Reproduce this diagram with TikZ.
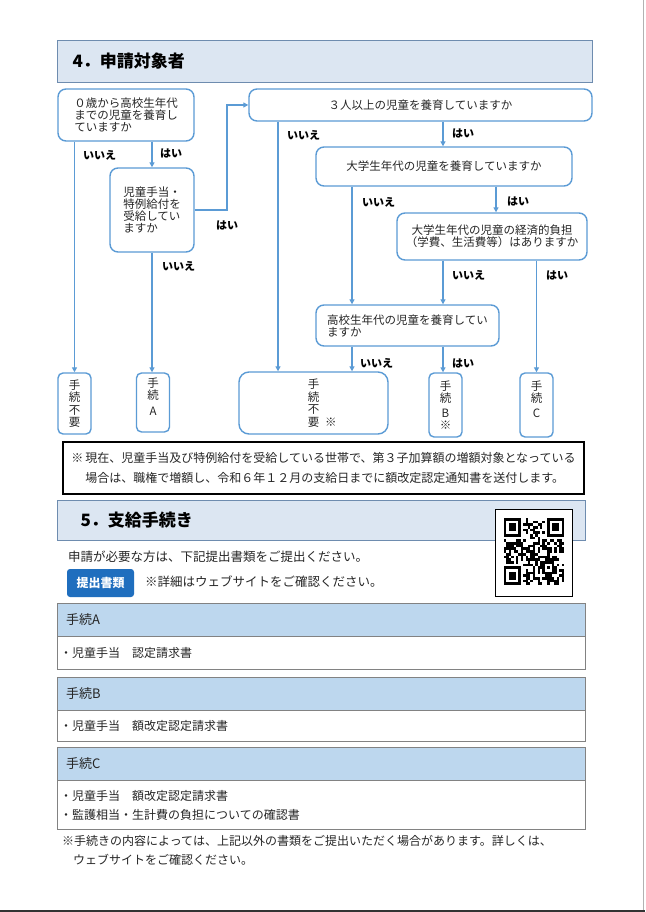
\documentclass[tikz,border=0pt]{standalone}
\usepackage{fontspec}
\setmainfont{Noto Sans CJK JP}
\usetikzlibrary{arrows.meta}
\definecolor{flowblue}{RGB}{91,155,213}
\definecolor{hdrfill}{RGB}{220,230,242}
\definecolor{hdrline}{RGB}{110,140,175}
\definecolor{tblfill}{RGB}{189,215,238}
\definecolor{tblline}{RGB}{130,130,130}
\definecolor{btnblue}{RGB}{31,110,190}
\tikzset{
  qbox/.style={draw=flowblue, line width=1.4pt, rounded corners=8pt, align=left, inner sep=0pt,
    text=black!85, font=\fontsize{11.5}{12}\selectfont},
  endbox/.style={draw=flowblue, line width=1.4pt, rounded corners=5pt, align=center, inner sep=0pt,
    minimum width=33pt, text=black!85, font=\fontsize{11.5}{12.5}\selectfont},
  flow/.style={flowblue, line width=1.4pt, -{Triangle[length=5pt,width=5pt]}},
  yn/.style={anchor=west, inner sep=0pt, font=\bfseries\fontsize{11}{11}\selectfont},
  hdr/.style={draw=hdrline, fill=hdrfill, line width=1pt, anchor=north west, align=left,
    inner xsep=15pt, font=\bfseries\fontsize{17}{17}\selectfont},
  txt/.style={inner sep=0pt, text=black!85, font=\fontsize{12.5}{12.5}\selectfont},
  tblhead/.style={draw=tblline, fill=tblfill, anchor=north west, text width=510pt, inner xsep=9pt,
    align=left, text=black!85, font=\fontsize{13}{13}\selectfont},
  tblbody/.style={draw=tblline, fill=white, anchor=north west, text width=522pt, inner xsep=3pt,
    align=left, text=black!85, font=\fontsize{12}{19}\selectfont}
}
\begin{document}
\begin{tikzpicture}[x=1pt,y=-1pt]
  \useasboundingbox (0,0) rectangle (645,912);
  \fill[white] (0,0) rectangle (645,912);
  \draw[black!30, line width=1pt] (643,0) -- (643,910);
  \draw[black!80, line width=1.5pt] (0,911) -- (645,911);

  \node[hdr, text width=505pt, minimum height=42pt] (hdr4) at (57,40) {4．申請対象者};

  \node[qbox, minimum width=136pt, minimum height=52pt] (q0) at (126,115) {０歳から高校生年代\\までの児童を養育し\\ていますか};
  \node[qbox, minimum width=84pt, minimum height=84pt] (q1) at (152,210) {児童手当・\\特例給付を\\受給してい\\ますか};
  \node[qbox, minimum width=343pt, minimum height=32pt] (q2) at (420.5,105) {３人以上の児童を養育していますか};
  \node[qbox, minimum width=256pt, minimum height=39pt] (q3) at (444,166.5) {大学生年代の児童を養育していますか};
  \node[qbox, minimum width=190pt, minimum height=47pt, align=center] (q4) at (492,236.5) {大学生年代の児童の経済的負担\\（学費、生活費等）はありますか};
  \node[qbox, minimum width=183pt, minimum height=41pt] (q5) at (407.5,325.5) {高校生年代の児童を養育してい\\ますか};

  \node[endbox, minimum height=61pt] (e0) at (74.5,403.5) {手\\続\\不\\要};
  \node[endbox, minimum height=59pt] (eA) at (153,402.5) {手\\続\\[3pt]A\\\mbox{}};
  \node[endbox, minimum width=149pt, minimum height=62pt, rounded corners=10pt] (eN) at (313.5,403) {手\\続\\不\\要\rlap{\hspace{6pt}※}};
  \node[endbox, minimum height=64pt] (eB) at (445.5,405) {手\\続\\[2pt]B\\※};
  \node[endbox, minimum height=64pt] (eC) at (536.5,405) {手\\続\\[2pt]C\\\mbox{}};

  \coordinate (j1) at (278,0);
  \coordinate (j2) at (352,0);
  \coordinate (j3) at (443,0);
  \coordinate (j4) at (496,0);
  \coordinate (j5) at (227,0);

  \draw[flow] (q0.south -| e0.north) -- (e0.north);
  \draw[flow] (q0.south -| q1.north) -- (q1.north);
  \draw[flow] (q1.south) -- (q1.south |- eA.north);
  \draw[flow] (q1.east) -| (j5 |- q2.west) -- (q2.west);
  \draw[flow] (q2.south -| j1) -- (eN.north -| j1);
  \draw[flow] (q2.south -| j3) -- (q3.north -| j3);
  \draw[flow] (q3.south -| j2) -- (q5.north -| j2);
  \draw[flow] (q3.south -| j4) -- (q4.north -| j4);
  \draw[flow] (q4.south -| j3) -- (q5.north -| j3);
  \draw[flow] (q4.south -| eC.north) -- (eC.north);
  \draw[flow] (q5.south -| j2) -- (eN.north -| j2);
  \draw[flow] (q5.south -| j3) -- (eB.north -| j3);

  \foreach \t/\x/\y [count=\k] in {いいえ/83/155, はい/160/153, はい/216/225, いいえ/162/266,
      いいえ/287/135, はい/452/133, いいえ/362/202, はい/507/201,
      いいえ/452/275, はい/546/275, いいえ/360/363, はい/452/363}
    \node[yn] (lb\k) at (\x,\y) {\t};

  \node[draw=black, line width=2pt, minimum width=521pt, minimum height=52pt, align=left,
    text=black!85, font=\fontsize{12}{20}\selectfont] (note) at (323.5,468)
    {※\,現在、児童手当及び特例給付を受給している世帯で、第３子加算額の増額対象となっている\\
     \hphantom{※\,}場合は、職権で増額し、令和６年１２月の支給日までに額改定認定通知書を送付します。};

  \node[hdr, inner xsep=23pt, text width=482pt, minimum height=40pt] (hdr5) at (57,500) {5．支給手続き};

  \node[draw=black, line width=0.8pt, fill=white, minimum width=77pt, minimum height=87pt, inner sep=0pt] (qr) at (533.5,552.5) {};
  \begin{scope}[shift={(504,518)}, x=2.4pt, y=-2.68pt]
    \pgfmathsetseed{11}
    \foreach \i in {0,...,24}{
      \foreach \j in {0,...,24}{
        \pgfmathtruncatemacro{\on}{((\i<8 && \j<8) || (\i>16 && \j<8) || (\i<8 && \j>16)) ? 0 : (rnd<0.5 ? 1 : 0)}
        \ifnum\on=1 \fill (\i,\j) rectangle ++(1,1); \fi
      }
    }
    \foreach \fx/\fy in {0/0,18/0,0/18}{
      \fill (\fx,\fy) rectangle ++(7,7);
      \fill[white] (\fx+1,\fy+1) rectangle ++(5,5);
      \fill (\fx+2,\fy+2) rectangle ++(3,3);
    }
    \fill (16,16) rectangle ++(5,5);
    \fill[white] (17,17) rectangle ++(3,3);
    \fill (18,18) rectangle ++(1,1);
  \end{scope}

  \node[txt, anchor=west] (lead) at (68,557) {申請が必要な方は、下記提出書類をご提出ください。};
  \node[fill=btnblue, rounded corners=3pt, minimum width=67pt, minimum height=28pt, inner sep=0pt,
    text=white, font=\bfseries\fontsize{12}{12}\selectfont] (btn) at (100.5,583) {提出書類};
  \node[txt, anchor=west] (detail) at (145,582) {※詳細はウェブサイトをご確認ください。};

  \node[tblhead, minimum height=33pt] (headA) at (57,603) {手続A};
  \node[tblbody, minimum height=33pt] (bodyA) at (headA.south west) {・児童手当　認定請求書};
  \node[tblhead, minimum height=33pt] (headB) at (57,677) {手続B};
  \node[tblbody, minimum height=31pt] (bodyB) at (headB.south west) {・児童手当　額改定認定請求書};
  \node[tblhead, minimum height=33pt] (headC) at (57,747) {手続C};
  \node[tblbody, minimum height=49pt] (bodyC) at (headC.south west) {・児童手当　額改定認定請求書\\・監護相当・生計費の負担についての確認書};

  \node[txt, anchor=west, align=left, font=\fontsize{12}{19}\selectfont] (foot) at (62,850.5)
    {※手続きの内容によっては、上記以外の書類をご提出いただく場合があります。詳しくは、\\
     \hspace*{11pt}ウェブサイトをご確認ください。};
\end{tikzpicture}
\end{document}
